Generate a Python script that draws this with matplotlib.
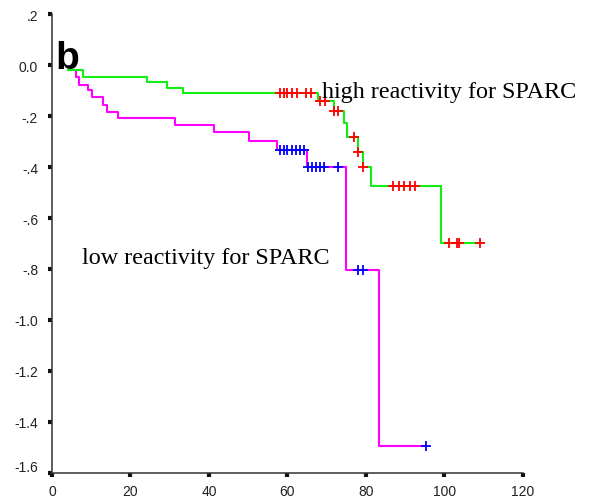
import numpy as np
import matplotlib
matplotlib.use("Agg")
import matplotlib.pyplot as plt
from matplotlib.transforms import ScaledTranslation

# step curves (time, value after the drop)
high_t = [4.0, 7.9, 24.1, 29.3, 33.5, 67.7, 71.8, 74.3, 75.2, 78.0, 79.2, 81.2, 99.0]
high_s = [-0.02, -0.048, -0.065, -0.091, -0.111, -0.142, -0.18, -0.229, -0.284, -0.34, -0.399, -0.476, -0.698]
high_end = 109.0
high_cens = [58.0, 59.0, 60.0, 61.1, 62.4, 64.8, 66.1, 68.4, 69.6, 71.9, 72.8, 77.0, 78.0, 79.2,
             87.0, 88.4, 89.6, 91.1, 92.6, 101.1, 103.1, 103.8, 109.0]

low_t = [4.0, 6.1, 7.0, 9.3, 10.1, 12.9, 14.1, 16.9, 31.4, 41.3, 50.3, 57.3, 65.1, 74.9, 83.2]
low_s = [-0.02, -0.048, -0.078, -0.097, -0.127, -0.157, -0.183, -0.209, -0.235, -0.264, -0.299,
         -0.333, -0.399, -0.803, -1.495]
low_end = 95.2
low_cens = [58.0, 59.0, 60.0, 61.1, 62.1, 63.1, 64.3, 65.3, 66.3, 67.3, 68.3, 69.3, 72.8, 77.9, 79.3, 95.2]

x_ticks = [0, 20, 40, 60, 80, 100, 120]
y_ticks = [0.2, 0.0, -0.2, -0.4, -0.6, -0.8, -1.0, -1.2, -1.4, -1.6]
y_labels = [".2", "0.0", "-.2", "-.4", "-.6", "-.8", "-1.0", "-1.2", "-1.4", "-1.6"]


def level_at(times, surv, t):
    idx = np.searchsorted(times, t, side='right') - 1
    return np.asarray(surv)[idx]


def draw_group(ax, times, surv, end, cens, line_col, mark_col):
    xs = np.append(times, end)
    ys = np.append(surv, surv[-1])
    ax.step(xs, ys, where='post', color=line_col, lw=1.5, zorder=2)
    cy = level_at(times, surv, np.asarray(cens))
    ax.plot(cens, cy, ls='none', marker='+', ms=7, mew=1.3, color=mark_col, zorder=3)


fig = plt.figure(figsize=(5.9, 5.02), dpi=100)
ax = fig.add_axes([0.0881, 0.0558, 0.7983, 0.9143])

draw_group(ax, low_t, low_s, low_end, low_cens, '#ff00ff', '#0000ff')
draw_group(ax, high_t, high_s, high_end, high_cens, '#11ee11', '#ff0000')

ax.set_xlim(0, 120)
ax.set_ylim(-1.6, 0.2)
ax.set_xticks(x_ticks)
ax.set_yticks(y_ticks)
ax.set_yticklabels(y_labels)

for s in ['top', 'right']:
    ax.spines[s].set_visible(False)
for s in ['left', 'bottom']:
    ax.spines[s].set_linewidth(1.1)
    ax.spines[s].set_color('#333333')

ax.tick_params(axis='both', direction='out', length=3, width=3, color='#111111',
               labelsize=10, labelcolor='#222222')
ax.tick_params(axis='y', pad=7)
ax.tick_params(axis='x', pad=5)
for lab in ax.get_xticklabels() + ax.get_yticklabels():
    lab.set_fontfamily('Liberation Sans')
# bottom y label sits a bit higher in the original
last = ax.get_yticklabels()[-1]
last.set_transform(last.get_transform() + ScaledTranslation(0, 7 / 100, fig.dpi_scale_trans))

ax.text(68.9, -0.124, "high reactivity for SPARC", fontsize=17.4, family='Liberation Serif',
        ha='left', va='baseline', zorder=4)
ax.text(7.6, -0.778, "low reactivity for SPARC", fontsize=17.4, family='Liberation Serif',
        ha='left', va='baseline', zorder=4)
ax.text(0.85, -0.012, "b", fontsize=28, fontweight='bold', family='Liberation Sans',
        ha='left', va='baseline', zorder=4)

fig.savefig("out.png", dpi=100)
